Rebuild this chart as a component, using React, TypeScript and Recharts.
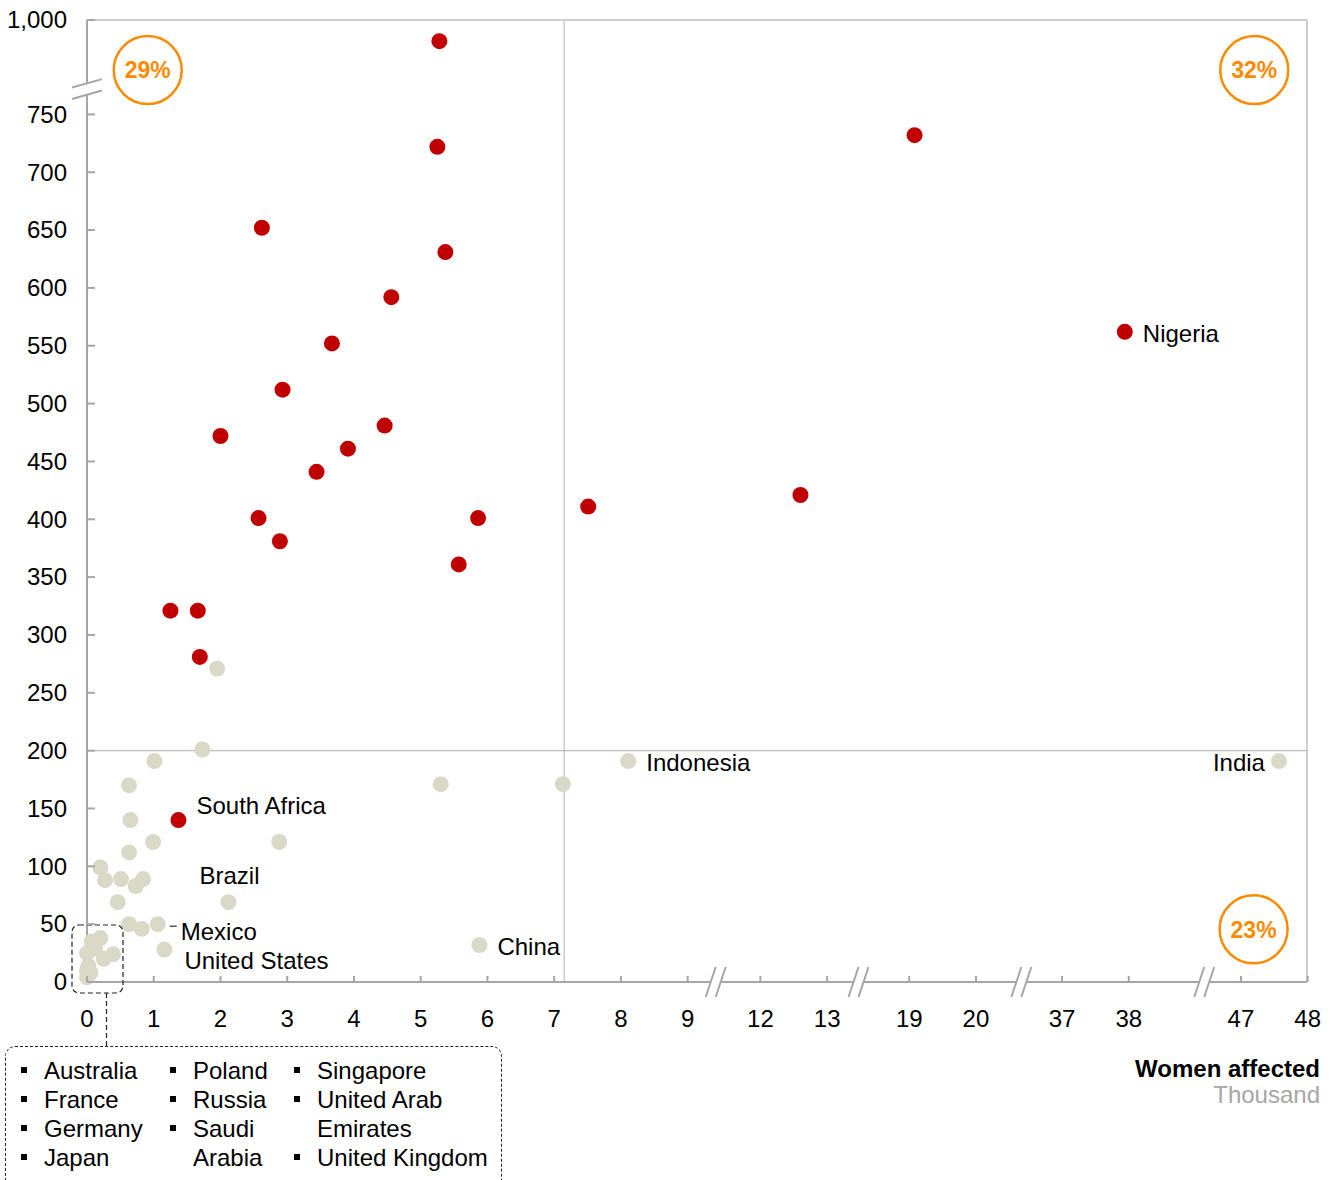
import React from "react";
import { ScatterChart, Scatter, XAxis, YAxis, ReferenceLine, ReferenceDot } from "recharts";

// women affected (thousand) vs. rate
const redX = [5.28, 5.25, 19.08, 2.62, 5.37, 4.56, 3.67, 37.94, 2.93, 2.0, 4.46, 3.91, 3.44, 12.6, 2.57, 5.86, 7.51, 2.89, 5.57, 1.25, 1.66, 1.69, 1.37];
const redY = [930, 722, 732, 652, 631, 592, 552, 562, 512, 472, 481, 461, 441, 421, 401, 401, 411, 381, 361, 321, 321, 281, 140];
const redNames = ["", "", "", "", "", "", "", "Nigeria", "", "", "", "", "", "", "", "", "", "", "", "", "", "", "South Africa"];

const greyX = [1.95, 1.73, 1.01, 0.63, 5.3, 7.13, 8.11, 47.57, 5.88, 0.65, 0.99, 2.88, 0.63, 0.2, 0.27, 0.51, 0.73, 0.84, 0.46, 2.12, 0.63, 0.82, 1.06, 1.16, 0.2, 0.07, 0.39, 0.25, 0.0, 0.02, 0.0, 0.0, 0.05, 0.12];
const greyY = [271, 201, 191, 170, 171, 171, 191, 191, 32, 140, 121, 121, 112, 99, 88, 89, 83, 89, 69, 69, 50, 46, 50, 28, 38, 35, 24, 20, 25, 14, 10, 4, 8, 29];
const greyNames = ["", "", "", "", "", "", "Indonesia", "India", "China", "", "", "", "", "", "", "", "", "", "", "Brazil", "", "", "Mexico", "United States", "", "", "", "", "", "", "", "", "", ""];

const xTicks = [0, 1, 2, 3, 4, 5, 6, 7, 8, 9, 12, 13, 19, 20, 37, 38, 47, 48];
const yTicks = [0, 50, 100, 150, 200, 250, 300, 350, 400, 450, 500, 550, 600, 650, 700, 750, 1000];

const smallCountries = [
  [["Australia", true], ["France", true], ["Germany", true], ["Japan", true]],
  [["Poland", true], ["Russia", true], ["Saudi", true], ["Arabia", false]],
  [["Singapore", true], ["United Arab", true], ["Emirates", false], ["United Kingdom", true]],
] as [string, boolean][][];

const quadrants = [
  { text: "29%", x: 0.91, y: 788.3 },
  { text: "32%", x: 17.49, y: 788.3 },
  { text: "23%", x: 17.48, y: 45.6 },
];

// broken x axis: each shown piece is one thousand wide
const xSegments = [
  { from: 0, to: 9, at: 0 },
  { from: 12, to: 13, at: 10.09 },
  { from: 19, to: 20, at: 12.32 },
  { from: 37, to: 38, at: 14.61 },
  { from: 47, to: 48, at: 17.29 },
];
const xBreaks = [9.42, 11.56, 14.0, 16.74];
const X_MAX = 18.28;

const Y_BREAK = 771.9;
const Y_MAX = 831.6;

function toU(x: number) {
  let seg = xSegments[0];
  for (const s of xSegments) if (x >= s.from) seg = s;
  return seg.at + (x - seg.from);
}
function toV(y: number) {
  if (y <= Y_BREAK) return y;
  return Y_BREAK + (y - Y_BREAK) * ((Y_MAX - Y_BREAK) / (1000 - Y_BREAK));
}

const redData = redX.map((x, i) => ({ u: toU(x), v: toV(redY[i]), country: redNames[i] }));
const greyData = greyX.map((x, i) => ({ u: toU(x), v: toV(greyY[i]), country: greyNames[i] }));

const FONT = "'Liberation Sans', Arial, sans-serif";
const AXIS = "#A6A6A6";
const ORANGE = "#FF8A00";

const labelPos: Record<string, { dx: number; dy: number; anchor?: string; lead?: boolean }> = {
  Nigeria: { dx: 18, dy: 10 },
  "South Africa": { dx: 18, dy: -6 },
  Indonesia: { dx: 18, dy: 10 },
  India: { dx: -14, dy: 10, anchor: "end" },
  China: { dx: 18, dy: 10 },
  Brazil: { dx: -29, dy: -18 },
  Mexico: { dx: 23, dy: 16, lead: true },
  "United States": { dx: 20, dy: 19 },
};

const dotShape = (fill: string) => (props: any) => {
  const { cx, cy } = props;
  const name = props.payload?.country;
  const lab = name ? labelPos[name] : undefined;
  return (
    <g>
      <circle cx={cx} cy={cy} r={8} fill={fill} />
      {lab && (
        <text x={cx + lab.dx} y={cy + lab.dy} textAnchor={lab.anchor || "start"} fontFamily={FONT} fontSize={24} fill="#000">
          {name}
        </text>
      )}
      {lab && lab.lead && <line x1={cx + 12} x2={cx + 19} y1={cy + 2} y2={cy + 2} stroke="#000" strokeWidth={1} />}
    </g>
  );
};

const YTick = (props: any) => {
  const { x, y, index } = props;
  const val = yTicks[index];
  return (
    <g>
      <line x1={x} x2={x + 8} y1={y} y2={y} stroke={AXIS} strokeWidth={2} />
      <text x={x - 20} y={y + 8.3} textAnchor="end" fontFamily={FONT} fontSize={24} fill="#000">
        {val.toLocaleString("en-US")}
      </text>
    </g>
  );
};

const XTick = (props: any) => {
  const { x, y, index } = props;
  return (
    <g>
      <line x1={x} x2={x} y1={y - 6} y2={y} stroke={AXIS} strokeWidth={2} />
      <text x={x} y={y + 45} textAnchor="middle" fontFamily={FONT} fontSize={24} fill="#000">
        {xTicks[index]}
      </text>
    </g>
  );
};

const xBreakShape = (props: any) => {
  const { cx, cy } = props;
  return (
    <g>
      <polygon points={`${cx - 10},${cy + 15} ${cx},${cy - 15} ${cx + 10},${cy - 15} ${cx},${cy + 15}`} fill="#fff" />
      <line x1={cx - 10} y1={cy + 15} x2={cx} y2={cy - 15} stroke={AXIS} strokeWidth={2} />
      <line x1={cx} y1={cy + 15} x2={cx + 10} y2={cy - 15} stroke={AXIS} strokeWidth={2} />
    </g>
  );
};

const yBreakShape = (props: any) => {
  const { cx, cy } = props;
  return (
    <g>
      <polygon points={`${cx - 15},${cy - 1.5} ${cx + 15},${cy - 9.9} ${cx + 15},${cy + 1.5} ${cx - 15},${cy + 9.9}`} fill="#fff" />
      <line x1={cx - 15} y1={cy - 1.5} x2={cx + 15} y2={cy - 9.9} stroke={AXIS} strokeWidth={2} />
      <line x1={cx - 15} y1={cy + 9.9} x2={cx + 15} y2={cy + 1.5} stroke={AXIS} strokeWidth={2} />
    </g>
  );
};

const clusterShape = (props: any) => {
  const { cx, cy } = props;
  return (
    <g>
      <rect x={cx - 15} y={cy - 57} width={51} height={68} rx={7} fill="none" stroke="#222" strokeWidth={1.2} strokeDasharray="5 3" />
      <line x1={cx + 19.5} x2={cx + 19.5} y1={cy + 11} y2={cy + 64} stroke="#222" strokeWidth={1.2} strokeDasharray="5 3" />
    </g>
  );
};

const pctShape = (text: string) => (props: any) => {
  const { cx, cy } = props;
  return (
    <g>
      <circle cx={cx} cy={cy} r={34} fill="none" stroke={ORANGE} strokeWidth={2.5} />
      <text x={cx} y={cy + 8.3} textAnchor="middle" fontFamily={FONT} fontSize={23} fontWeight="bold" fill={ORANGE}>
        {text}
      </text>
    </g>
  );
};

export default function App() {
  return (
    <div style={{ position: "absolute", left: 0, top: 0, width: 1338, height: 1180, overflow: "hidden", background: "#fff", fontFamily: FONT }}>
      <ScatterChart width={1338} height={1180} margin={{ top: 20, right: 31, left: 7, bottom: 168 }}>
        <ReferenceLine y={200} stroke="#BFBFBF" strokeWidth={1.2} />
        <ReferenceLine x={toU(7.15)} stroke="#BFBFBF" strokeWidth={1.2} />
        <ReferenceLine y={Y_MAX} stroke="#BFBFBF" strokeWidth={1.5} />
        <ReferenceLine x={X_MAX} stroke="#BFBFBF" strokeWidth={1.5} />
        <XAxis
          type="number"
          dataKey="u"
          domain={[0, X_MAX]}
          ticks={xTicks.map(toU)}
          interval={0}
          height={30}
          axisLine={{ stroke: AXIS, strokeWidth: 2 }}
          tickLine={false}
          tickSize={0}
          tickMargin={0}
          tick={<XTick />}
        />
        <YAxis
          type="number"
          dataKey="v"
          domain={[0, Y_MAX]}
          ticks={yTicks.map(toV)}
          interval={0}
          width={80}
          axisLine={{ stroke: AXIS, strokeWidth: 2 }}
          tickLine={false}
          tickSize={0}
          tickMargin={0}
          tick={<YTick />}
        />
        <Scatter data={greyData} fill="#DAD9C8" shape={dotShape("#DAD9C8")} isAnimationActive={false} />
        <Scatter data={redData} fill="#C00000" shape={dotShape("#C00000")} isAnimationActive={false} />
        {xBreaks.map((b) => (
          <ReferenceDot key={b} x={b} y={0} ifOverflow="visible" isFront shape={xBreakShape} />
        ))}
        <ReferenceDot x={0} y={Y_BREAK} ifOverflow="visible" isFront shape={yBreakShape} />
        <ReferenceDot x={0} y={0} ifOverflow="visible" isFront shape={clusterShape} />
        {quadrants.map((q) => (
          <ReferenceDot key={q.text} x={q.x} y={q.y} ifOverflow="visible" isFront shape={pctShape(q.text)} />
        ))}
      </ScatterChart>

      <div
        style={{
          position: "absolute",
          left: 5,
          top: 1046,
          width: 497,
          height: 160,
          border: "1.2px dashed #222",
          borderRadius: 10,
          boxSizing: "border-box",
        }}
      />
      {smallCountries.map((col, ci) => {
        const left = [44, 193, 317][ci];
        return col.map(([t, bullet], ri) => (
          <div
            key={ci + "-" + ri}
            style={{ position: "absolute", left, top: 1055.5 + ri * 29, fontSize: 24, lineHeight: "29px", color: "#000", whiteSpace: "nowrap" }}
          >
            {bullet && (
              <span style={{ position: "absolute", left: -23, top: 11, width: 6, height: 6, background: "#000" }} />
            )}
            {t}
          </div>
        ));
      })}

      <div style={{ position: "absolute", right: 18, top: 1056, textAlign: "right", fontSize: 24, lineHeight: "26px" }}>
        <div style={{ fontWeight: "bold", color: "#000" }}>Women affected</div>
        <div style={{ color: "#A6A6A6" }}>Thousand</div>
      </div>
    </div>
  );
}
